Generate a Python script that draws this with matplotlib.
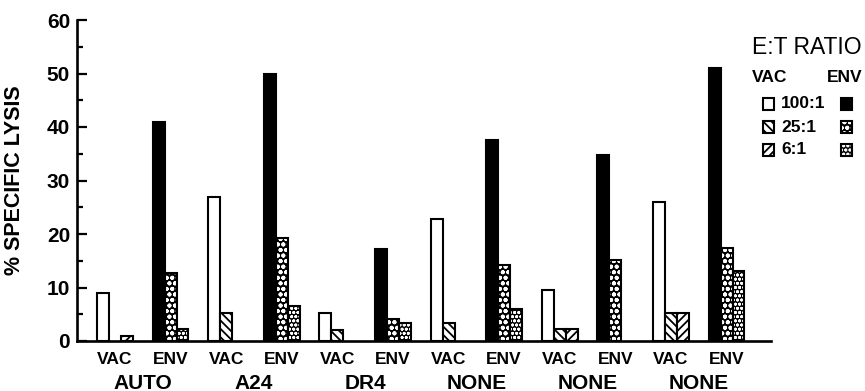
import matplotlib
matplotlib.use("Agg")
import matplotlib.pyplot as plt
import numpy as np
from matplotlib.patches import Rectangle
from matplotlib.transforms import blended_transform_factory

plt.rcParams['font.family'] = ['Liberation Sans', 'DejaVu Sans']
plt.rcParams['font.weight'] = 'bold'
plt.rcParams['axes.labelweight'] = 'bold'

groups = ['AUTO', 'A24', 'DR4', 'NONE', 'NONE', 'NONE']
targets = ['VAC', 'ENV']
ratios = ['100:1', '25:1', '6:1']

# % specific lysis, one value per effector group
vac_100 = [9.0, 27.0, 5.3, 22.8, 9.5, 26.0]
vac_25 = [0.0, 5.3, 2.0, 3.4, 2.2, 5.3]
vac_6 = [1.0, 0.0, 0.0, 0.0, 2.2, 5.3]
env_100 = [41.0, 50.0, 17.2, 37.5, 34.7, 51.0]
env_25 = [12.8, 19.2, 4.2, 14.2, 15.2, 17.4]
env_6 = [2.2, 6.6, 3.4, 6.0, 0.0, 13.1]

vac = [vac_100, vac_25, vac_6]
env = [env_100, env_25, env_6]
vac_hatch = [None, '\\\\\\\\', '////']
env_hatch = [None, 'ooo', 'oooo']
vac_hlw = [1.3, 1.3, 1.3]
env_hlw = [1.0, 1.3, 0.9]

W, H = 865, 391
fig = plt.figure(figsize=(W / 100, H / 100), dpi=100)
ax = fig.add_axes([77 / W, 50 / H, 694 / W, 321 / H])

w = 0.215
lw = 1.5
pos_vac = np.arange(len(groups)) * 2
pos_env = pos_vac + 1

for i in range(3):
    h = np.array(vac[i])
    m = h > 0
    with plt.rc_context({'hatch.linewidth': vac_hlw[i]}):
        ax.bar(pos_vac[m] + (i - 1) * w, h[m], w, facecolor='white',
               edgecolor='black', linewidth=lw, hatch=vac_hatch[i], zorder=2)

    h = np.array(env[i])
    m = h > 0
    x = pos_env[m] + (i - 1) * w
    if env_hatch[i] is None:
        ax.bar(x, h[m], w, facecolor='black', edgecolor='black',
               linewidth=lw, zorder=2)
    else:
        with plt.rc_context({'hatch.linewidth': env_hlw[i]}):
            ax.bar(x, h[m], w, facecolor='black', edgecolor='white',
                   linewidth=0, hatch=env_hatch[i], zorder=2)
        ax.bar(x, h[m], w, facecolor='none', edgecolor='black',
               linewidth=lw, zorder=3)

ax.set_xlim(-0.683, 11.80)
ax.set_ylim(0, 60)
for s in ['top', 'right']:
    ax.spines[s].set_visible(False)
for s in ['left', 'bottom']:
    ax.spines[s].set_linewidth(1.9)

ax.set_yticks(np.arange(0, 61, 10))
ax.set_yticks(np.arange(5, 60, 10), minor=True)
ax.tick_params(axis='y', which='major', direction='in', length=7, width=1.6,
               labelsize=15, pad=5)
ax.tick_params(axis='y', which='minor', direction='in', length=4, width=1.6)

ticks = np.sort(np.concatenate([pos_vac, pos_env]))
ax.set_xticks(ticks)
ax.set_xticklabels(targets * len(groups))
ax.tick_params(axis='x', length=0, pad=8, labelsize=12.5)

trans = blended_transform_factory(ax.transData, ax.transAxes)
for g, name in enumerate(groups):
    ax.text(pos_vac[g] + 0.5, -0.131, name, transform=trans, ha='center',
            va='center', fontsize=15)

ax.set_ylabel('% SPECIFIC LYSIS', fontsize=15.5, fontweight='bold')
ax.yaxis.set_label_coords(-0.075, 0.5)

# legend drawn by hand in pixel positions
def fx(px):
    return px / W

def fy(py):
    return 1 - py / H

fig.text(fx(752), fy(47), 'E:T RATIO', fontsize=16.5, fontweight='normal',
         va='center', ha='left')
fig.text(fx(752), fy(77), 'VAC', fontsize=12.5, va='center', ha='left')
fig.text(fx(862), fy(77), 'ENV', fontsize=12.5, va='center', ha='right')
sq = 11
for i, r in enumerate(ratios):
    yc = [104, 127, 150][i]
    with plt.rc_context({'hatch.linewidth': vac_hlw[i]}):
        fig.patches.append(Rectangle((fx(763), fy(yc + sq / 2)), sq / W, sq / H,
                                     transform=fig.transFigure, facecolor='white',
                                     edgecolor='black', linewidth=lw,
                                     hatch=vac_hatch[i]))
    fig.text(fx(781), fy(yc), r, fontsize=12.5, va='center', ha='left')
    if env_hatch[i] is None:
        fig.patches.append(Rectangle((fx(841), fy(yc + sq / 2)), sq / W, sq / H,
                                     transform=fig.transFigure, facecolor='black',
                                     edgecolor='black', linewidth=lw))
    else:
        with plt.rc_context({'hatch.linewidth': env_hlw[i]}):
            fig.patches.append(Rectangle((fx(841), fy(yc + sq / 2)), sq / W,
                                         sq / H, transform=fig.transFigure,
                                         facecolor='black', edgecolor='white',
                                         linewidth=0, hatch=env_hatch[i]))
        fig.patches.append(Rectangle((fx(841), fy(yc + sq / 2)), sq / W, sq / H,
                                     transform=fig.transFigure, facecolor='none',
                                     edgecolor='black', linewidth=lw))

fig.savefig('out.png', dpi=100)
